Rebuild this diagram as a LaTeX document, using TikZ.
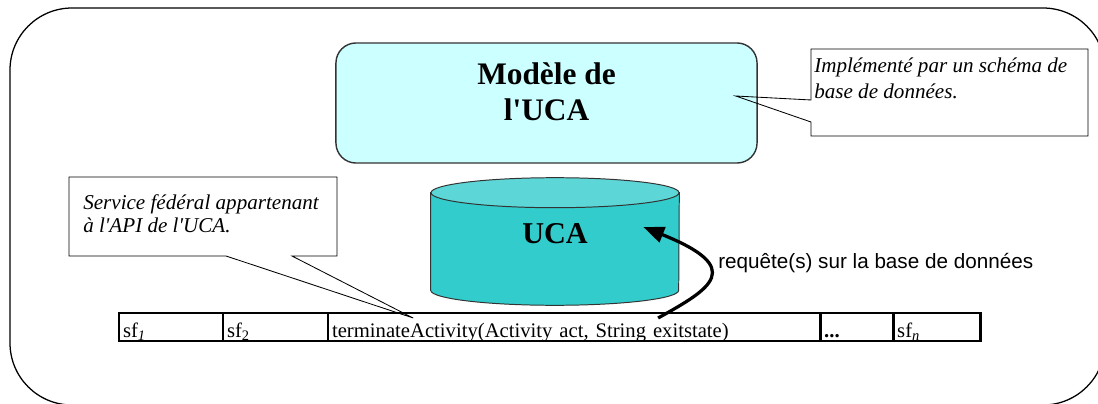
\documentclass[tikz,border=0pt]{standalone}
\usepackage{fontspec}
\setmainfont{Liberation Serif}[Ligatures=TeXOff]
\newfontfamily\arialfont{Liberation Sans}
\usepackage{tikz}
\usetikzlibrary{arrows.meta,positioning,calc,backgrounds}
\definecolor{modelfill}{HTML}{CCFFFF}
\definecolor{dbside}{HTML}{33CCCC}
\definecolor{dbtop}{HTML}{5CD6D6}
\definecolor{edgegray}{HTML}{333333}
\tikzset{
  >={Triangle[length=5.2mm,width=4mm]},
  frame/.style={draw=black,line width=.9pt,rounded corners=1.55cm},
  modelbox/.style={draw=edgegray,fill=modelfill,line width=1pt,rounded corners=5mm,
    minimum width=10.525cm,minimum height=3cm,inner sep=0pt},
  title/.style={font=\fontsize{22.3}{25.5}\selectfont\bfseries,align=center,inner sep=0pt},
  dbnode/.style={minimum width=6.2cm,minimum height=3.175cm,inner sep=0pt,
    text height=5mm,text depth=4.25mm,font=\fontsize{21.5}{25.5}\selectfont\bfseries},
  dbwall/.style={draw=edgegray,line width=.7pt,fill=dbside},
  dbcap/.style={draw=edgegray,line width=.7pt,fill=dbtop},
  notebox/.style={inner sep=0pt,outer sep=0pt},
  notetext/.style={font=\fontsize{15}{18}\selectfont\itshape,align=left,inner sep=0pt,anchor=north west},
  noteline/.style={draw=black,line width=.6pt},
  cell/.style={draw=black,line width=2pt,inner xsep=1mm,inner ysep=0pt,text height=6mm,
    text depth=1mm,outer sep=0pt,align=left,font=\fontsize{14.7}{17.4}\selectfont},
  query/.style={->,line width=2.3pt},
}

\begin{document}
\begin{tikzpicture}[x=0.025cm,y=0.025cm]
  \useasboundingbox (0,0) rectangle (1098,403);
  \draw[frame] (10,395) rectangle (1105,-2);

  % model and database
  \node[modelbox] (modele) at (546.5,300) {};
  \node[title,anchor=north] (modeletxt) at ($(modele.north)+(0,-20)$) {Modèle de\\l'UCA};
  \node[dbnode] (uca) at (555,161.5) {UCA};
  \begin{scope}[on background layer]
    \draw[dbwall] ($(uca.north west)+(0,-15)$) -- ($(uca.south west)+(0,15)$)
      arc[start angle=180,end angle=360,x radius=124,y radius=15]
      -- ($(uca.north east)+(0,-15)$) -- cycle;
    \draw[dbcap] ($(uca.north)+(0,-15)$) ellipse[x radius=124,y radius=15];
  \end{scope}

  % API table
  \node[cell,text width=2.4cm,anchor=west] (sf1) at (119,76) {sf\textsubscript{\textit{1}}};
  \node[cell,text width=2.425cm,right=0pt of sf1] (sf2) {sf\textsubscript{2}};
  \node[cell,text width=12.1cm,right=0pt of sf2] (term) {terminateActivity(Activity act, String exitstate)};
  \node[cell,text width=1.625cm,right=0pt of term] (dots) {\textbf{...}};
  \node[cell,text width=1.975cm,right=0pt of dots] (sfn) {sf\textsubscript{\textit{n}}};

  % notes
  \node[notebox,minimum width=6.925cm,minimum height=2.175cm] (impl) at (949.5,310.5) {};
  \node[notetext] (impltxt) at (814,345) {Implémenté par un schéma de\\base de données.};
  \coordinate (implptr) at ($(modele.east)+(-22,7)$);
  \draw[noteline] (impl.south west) -- ($(impl.south west)!.161!(impl.north west)$) -- (implptr)
    -- ($(impl.south west)!.414!(impl.north west)$) -- (impl.north west) -- (impl.north east)
    -- (impl.south east) -- cycle;

  \node[notebox,minimum width=6.7cm,minimum height=1.975cm] (svc) at (203,186.5) {};
  \node[notetext,font=\fontsize{15}{16.6}\selectfont\itshape] (svctxt) at (83,208.5)
    {Service fédéral appartenant\\à l'API de l'UCA.};
  \coordinate (svcptr) at ($(term.north)+(-161,-5)$);
  \draw[noteline] (svc.south west) -- ($(svc.south west)!.586!(svc.south east)$) -- (svcptr)
    -- ($(svc.south west)!.832!(svc.south east)$) -- (svc.south east) -- (svc.north east)
    -- (svc.north west) -- cycle;

  % query arrow
  \coordinate (qfrom) at ($(term.north)+(84,-5)$);
  \coordinate (qto) at ($(uca.east)+(-36,14.5)$);
  \draw[query] (qfrom) .. controls +(54,30) and +(102,-41) .. (qto);
  \node[font=\arialfont\fontsize{14.7}{17.4}\selectfont,anchor=base west,inner sep=0pt] (qlabel)
    at (718,135) {requête(s) sur la base de données};
\end{tikzpicture}
\end{document}
